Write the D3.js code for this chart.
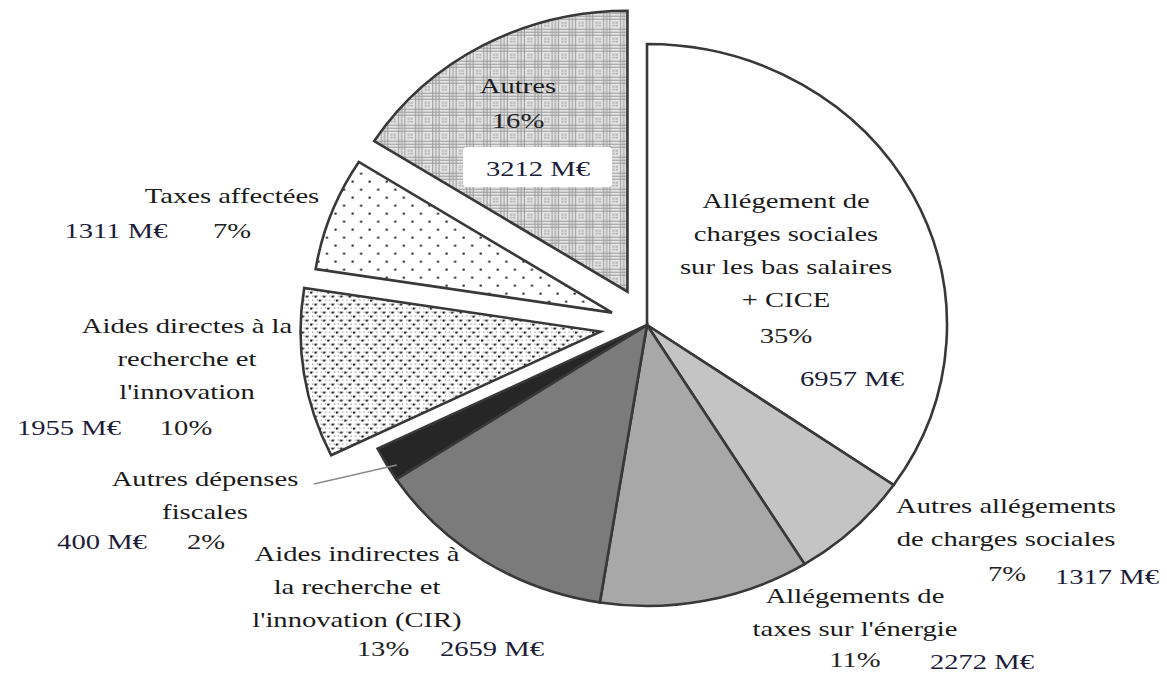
<!DOCTYPE html>
<html>
<head>
<meta charset="utf-8">
<script src="https://cdn.jsdelivr.net/npm/d3@7"></script>
<style>
  html, body { margin:0; padding:0; background:#fff; }
  svg { display:block; }
</style>
</head>
<body>
<div id="view"></div>
<script>
/* ===================== DATA ===================== */
const CATEGORIES = [
  "Allégement de charges sociales sur les bas salaires + CICE",
  "Autres allégements de charges sociales",
  "Allégements de taxes sur l'énergie",
  "Aides indirectes à la recherche et l'innovation (CIR)",
  "Autres dépenses fiscales",
  "Aides directes à la recherche et l'innovation",
  "Taxes affectées",
  "Autres"
];
const VALUES = [6957, 1317, 2272, 2659, 400, 1955, 1311, 3212];   // M€
const LABEL_LINES = [
  ["Allégement de","charges sociales","sur les bas salaires","+ CICE"],
  ["Autres allégements","de charges sociales"],
  ["Allégements de","taxes sur l'énergie"],
  ["Aides indirectes à","la recherche et","l'innovation (CIR)"],
  ["Autres dépenses","fiscales"],
  ["Aides directes à la","recherche et","l'innovation"],
  ["Taxes affectées"],
  ["Autres"]
];

/* ===================== STYLE / LAYOUT ===================== */
const W = 1167, H = 677;
const CX = 647, CY = 325, R = 281, SX = 300/281;   // pie is a bit wider than tall
const FS = 22, STRETCH = 1.3;                      // serif stays serif up to 22px; widen glyphs instead
const FILLS = ["#ffffff","#c4c4c4","#a8a8a8","#7b7b7b","#262626","url(#pDense)","url(#pSparse)","url(#pPlaid)"];
const EXPLODE = [0,0,0,0,0,44,35,38];
const LINE_H = 33;
// label blocks: name (centre x, first baseline), pct (x,y), value (x,y)
const LAYOUT = [
  {nx:786,  ny:208, px:786,  py:343, vx:852,  vy:386},
  {nx:1006, ny:513, px:1007, py:581, vx:1107, vy:584},
  {nx:855,  ny:603, px:855,  py:667, vx:982,  vy:669},
  {nx:357,  ny:561, px:383,  py:656, vx:492,  vy:656},
  {nx:205,  ny:486, px:206,  py:549, vx:102,  vy:549},
  {nx:187,  ny:333, px:186,  py:435, vx:69,   vy:435},
  {nx:232,  ny:203, px:232,  py:238, vx:116,  vy:238},
  {nx:518,  ny:93,  px:518,  py:128, vx:538,  vy:176}
];

const total = d3.sum(VALUES);
const fmtPct = v => Math.round(v/total*100) + "%";
const fmtVal = v => v + " M€";

/* ===================== DRAW ===================== */
const svg = d3.select("#view").append("svg").attr("width", W).attr("height", H);
const defs = svg.append("defs");

// sparse dots (Taxes affectées)
const ps = defs.append("pattern").attr("id","pSparse").attr("patternUnits","userSpaceOnUse")
  .attr("width",16).attr("height",16);
ps.append("rect").attr("width",16).attr("height",16).attr("fill","#fff");
[[4,4],[12,12]].forEach(([x,y]) => ps.append("rect").attr("x",x).attr("y",y).attr("width",2).attr("height",2).attr("fill","#222"));

// dense dots in diamonds (Aides directes)
const pd = defs.append("pattern").attr("id","pDense").attr("patternUnits","userSpaceOnUse")
  .attr("width",16).attr("height",16);
pd.append("rect").attr("width",16).attr("height",16).attr("fill","#fff");
for (let x=0; x<16; x+=4) for (let y=0; y<16; y+=4)
  pd.append("rect").attr("x",x+2).attr("y",y).attr("width",1).attr("height",1).attr("fill","#666");
[[4,4],[12,4],[4,12],[12,12],[8,0],[0,8]].forEach(([x,y]) =>
  pd.append("rect").attr("x",x).attr("y",y).attr("width",2).attr("height",2).attr("fill","#1a1a1a"));

// plaid (Autres)
const pp = defs.append("pattern").attr("id","pPlaid").attr("patternUnits","userSpaceOnUse")
  .attr("width",16).attr("height",16);
pp.append("rect").attr("width",16).attr("height",16).attr("fill","#e4e4e4");
[1,4,7].forEach(x => pp.append("rect").attr("x",x+8).attr("y",0).attr("width",1).attr("height",16).attr("fill","#9a9a9a"));
[1,4,7].forEach(y => pp.append("rect").attr("x",0).attr("y",y+8).attr("width",16).attr("height",1).attr("fill","#9a9a9a"));
[[2,2],[5,2],[2,5],[5,5]].forEach(([x,y]) => pp.append("rect").attr("x",x).attr("y",y).attr("width",2).attr("height",2).attr("fill","#b5b5b5"));

const pie = d3.pie().sort(null).value(d => d)(VALUES);
const arc = d3.arc().innerRadius(0).outerRadius(R);

const g = svg.append("g").attr("transform", `translate(${CX},${CY}) scale(${SX},1)`);
g.selectAll("path.slice").data(pie).join("path")
  .attr("class","slice")
  .attr("transform", (d,i) => {
    const a = (d.startAngle + d.endAngle)/2;
    return `translate(${Math.sin(a)*EXPLODE[i]},${-Math.cos(a)*EXPLODE[i]})`;
  })
  .attr("d", arc)
  .attr("fill", (d,i) => FILLS[i])
  .attr("stroke", "#383838")
  .attr("stroke-width", 2.6)
  .attr("stroke-linejoin", "miter")
  .attr("vector-effect", "non-scaling-stroke");

// leader for the small slice
const small = pie[4];
const sa = (small.startAngle + small.endAngle)/2 - 0.02;
svg.append("line")
  .attr("x1", LAYOUT[4].nx + 109).attr("y1", LAYOUT[4].ny - 2)
  .attr("x2", CX + Math.sin(sa)*(R-8)*SX).attr("y2", CY - Math.cos(sa)*(R-8))
  .attr("stroke","#8a8a8a").attr("stroke-width",1.3);

// white box behind the "Autres" value
const L7 = LAYOUT[7];
svg.append("rect").attr("x", L7.vx-75).attr("y", L7.vy-29).attr("width",149).attr("height",40)
  .attr("rx",4).attr("fill","#fff");

const labels = svg.append("g");
function txt(x, y, s, fill){
  const t = labels.append("text")
    .attr("x", x).attr("y", y)
    .attr("text-anchor","middle")
    .attr("font-family", "Liberation Serif")
    .attr("font-size", FS)
    .attr("fill", fill)
    .text(s);
  const w = t.node().getComputedTextLength();
  t.attr("textLength", w*STRETCH).attr("lengthAdjust","spacingAndGlyphs");
}
CATEGORIES.forEach((c,i) => {
  const L = LAYOUT[i];
  LABEL_LINES[i].forEach((line,k) => txt(L.nx, L.ny + k*LINE_H, line, "#1a1a1a"));
  txt(L.px, L.py, fmtPct(VALUES[i]), "#222");
  txt(L.vx, L.vy, fmtVal(VALUES[i]), "#1c1d3a");
});
</script>
</body>
</html>
